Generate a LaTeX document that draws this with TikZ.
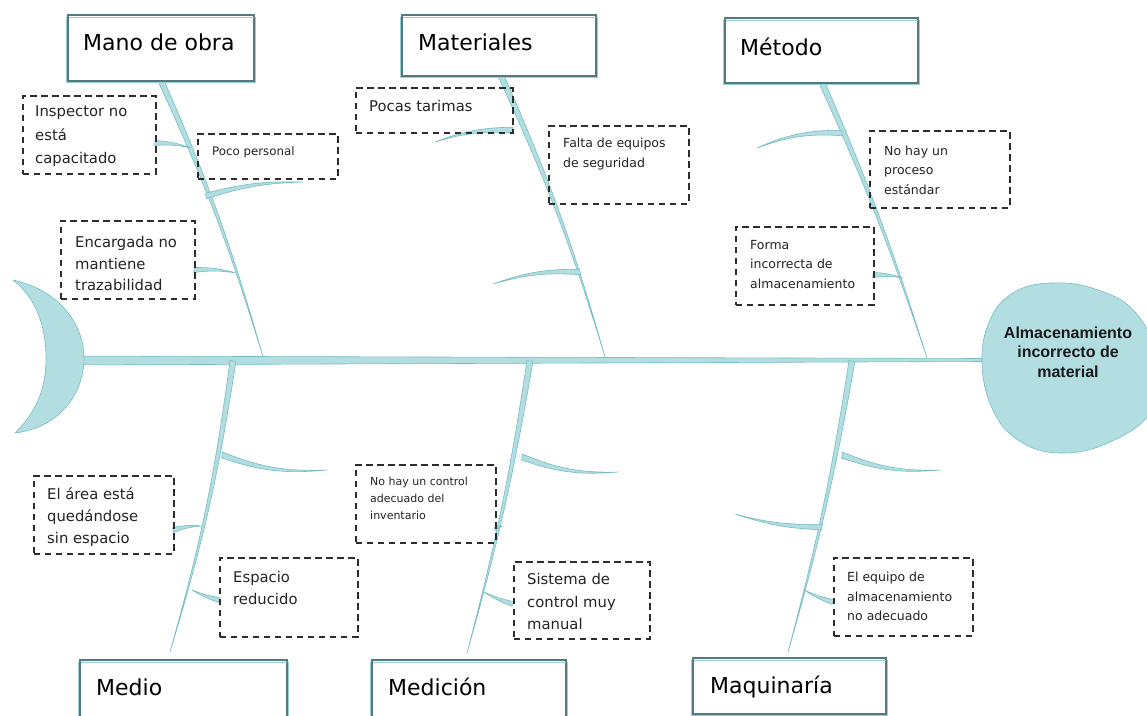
\documentclass[tikz,border=0pt]{standalone}
\usepackage{fontspec}
\setmainfont{DejaVu Sans}
\newfontfamily\headfont{Liberation Sans}
\usetikzlibrary{calc}
\definecolor{bonefill}{RGB}{178,222,226}
\definecolor{boneline}{RGB}{118,188,194}
\definecolor{catline}{RGB}{84,122,126}
\definecolor{catshadow}{RGB}{150,208,213}
\definecolor{dashc}{RGB}{45,45,45}
\definecolor{txtc}{RGB}{35,35,35}
\tikzset{
  bone/.style={fill=bonefill, draw=boneline, line width=0.6pt, line join=round},
  catbox/.style={draw=catline, line width=1.3pt, fill=white, inner sep=0pt, anchor=north west},
  catshade/.style={draw=catshadow, line width=1.6pt},
  cattext/.style={font=\fontsize{22}{26}\selectfont, text=black, inner sep=0pt, anchor=base west},
  dbox/.style={draw=dashc, line width=1.6pt, dash pattern=on 6.5pt off 4.5pt, inner sep=0pt, anchor=north west},
  ltext/.style={font=\fontsize{14.8}{22.5}\selectfont, text=txtc, inner sep=0pt, anchor=west, align=left},
  stext/.style={font=\fontsize{12.5}{19.5}\selectfont, text=txtc, inner sep=0pt, anchor=west, align=left},
  ttext/.style={font=\fontsize{11}{17}\selectfont, text=txtc, inner sep=0pt, anchor=west, align=left},
  headtext/.style={font=\headfont\bfseries\fontsize{16}{19.5}\selectfont, text=black!90, inner sep=0pt, align=center}
}
% tapered curved stroke: wide end #1, pointed end #2, half width #3 (pt), bend #4
\newcommand\brush[4]{\filldraw[bone] ($#1!#3pt!90:#2$) to[bend left=#4] #2 to[bend right=#4] ($#1!#3pt!-90:#2$) -- cycle;}
% category box: name, x0, y0, x1, y1
\newcommand\catframe[5]{%
  \node[catbox, minimum width={#4-#2}, minimum height={#5-#3}] (#1) at (#2,#3) {};
  \draw[catshade] ({#2-1.5},{#3+2.5}) rectangle ({#4+2.5},{#5+2.5});
  \draw[catline, line width=1.3pt] (#1.north west) rectangle (#1.south east);}
\begin{document}
\begin{tikzpicture}[x=1pt, y=-1pt]
\useasboundingbox (0,0) rectangle (1147,715);

% spine
\filldraw[bone] (70,356) -- (984,358.5) -- (984,361.5) -- (70,365) -- cycle;

% main bones (top)
\brush{(157,72)}{(263,357)}{3}{4}
\brush{(497,67)}{(605,357)}{3}{4}
\brush{(819,76)}{(927,358)}{3}{3}
% main bones (bottom)
\brush{(233,361)}{(170,652)}{3}{4}
\brush{(530,361)}{(467,653)}{3}{3}
\brush{(852,361)}{(788,652)}{3}{3}

% ribs
\brush{(206,196)}{(303,182)}{2.8}{8}
\brush{(513,130)}{(435,142)}{2.8}{-10}
\brush{(580,272)}{(493,284)}{2.8}{-10}
\brush{(842,133)}{(757,148)}{2.8}{-12}
\brush{(222,455)}{(327,470)}{3}{-12}
\brush{(522,457)}{(618,472)}{3}{-12}
\brush{(842,455)}{(940,470)}{3}{-12}
\brush{(822,527)}{(735,514)}{2.8}{8}
% short ribs to boxes
\brush{(155,143)}{(191,148)}{2.5}{8}
\brush{(194,270)}{(236,273)}{2.5}{8}
\brush{(873,275)}{(903,278)}{2.5}{8}
\brush{(173,530)}{(202,526)}{2.5}{8}
\brush{(219,600)}{(192,590)}{2.5}{6}
\brush{(513,604)}{(484,592)}{2.5}{6}
\brush{(833,602)}{(804,590)}{2.5}{6}
\brush{(495,529)}{(502,526)}{1.5}{6}

% tail
\filldraw[bone] (13,280) .. controls (60,290) and (84,325) .. (84,358)
  .. controls (84,395) and (58,428) .. (15,433)
  .. controls (36,412) and (46,390) .. (46,358)
  .. controls (46,326) and (36,298) .. (13,280) -- cycle;

% head
\filldraw[bone] plot[smooth cycle, tension=0.7] coordinates {
  (982,362) (990,320) (1013,293) (1050,283) (1095,289) (1135,312) (1158,360)
  (1152,410) (1110,442) (1060,453) (1018,440) (992,408)};
\node[headtext] (headT) at (1068,352) {Almacenamiento\\incorrecto de\\material};

% category boxes
\catframe{mano}{68}{15}{253}{80}
\node[cattext] (manoT) at (83,50) {Mano de obra};
\catframe{mat}{402}{15}{595}{75}
\node[cattext] (matT) at (418,50) {Materiales};
\catframe{met}{725}{18}{917}{82}
\node[cattext] (metT) at (740,55) {Método};
\catframe{medio}{80}{660}{286}{722}
\node[cattext] (medioT) at (96,695) {Medio};
\catframe{medic}{372}{660}{565}{722}
\node[cattext] (medicT) at (388,695) {Medición};
\catframe{maq}{693}{658}{885}{713}
\node[cattext] (maqT) at (710,693) {Maquinaría};

% dashed cause boxes
\node[dbox, minimum width=133, minimum height=78] (b1) at (22,95) {};
\node[ltext, font=\fontsize{14.8}{23.5}\selectfont] (t1) at (35,136.5) {Inspector no\\está\\capacitado};
\node[dbox, minimum width=140, minimum height=45] (b2) at (197,133) {};
\node[stext, font=\fontsize{11.8}{18}\selectfont] (t2) at (212,152) {Poco personal};
\node[dbox, minimum width=134, minimum height=78] (b3) at (60,220) {};
\node[ltext, font=\fontsize{14.8}{21.5}\selectfont] (t3) at (75,263.5) {Encargada no\\mantiene\\trazabilidad};
\node[dbox, minimum width=157, minimum height=45] (b4) at (355,87) {};
\node[ltext] (t4) at (369,106) {Pocas tarimas};
\node[dbox, minimum width=140, minimum height=78] (b5) at (548,125) {};
\node[stext] (t5) at (563,154) {Falta de equipos\\de seguridad};
\node[dbox, minimum width=140, minimum height=77] (b6) at (869,130) {};
\node[stext] (t6) at (884,170) {No hay un\\proceso\\estándar};
\node[dbox, minimum width=138, minimum height=78] (b7) at (735,226) {};
\node[stext] (t7) at (750,264.5) {Forma\\incorrecta de\\almacenamiento};
\node[dbox, minimum width=140, minimum height=78] (b8) at (33,475) {};
\node[ltext, font=\fontsize{14.8}{22}\selectfont] (t8) at (47,517) {El área está\\quedándose\\sin espacio};
\node[dbox, minimum width=138, minimum height=79] (b9) at (219,557) {};
\node[ltext, font=\fontsize{14.8}{22}\selectfont] (t9) at (233,588) {Espacio\\reducido};
\node[dbox, minimum width=140, minimum height=78] (b10) at (355,464) {};
\node[ttext] (t10) at (370,498) {No hay un control\\adecuado del\\inventario};
\node[dbox, minimum width=136, minimum height=77] (b11) at (513,561) {};
\node[ltext] (t11) at (527,601.5) {Sistema de\\control muy\\manual};
\node[dbox, minimum width=139, minimum height=78] (b12) at (833,557) {};
\node[stext] (t12) at (847,596.5) {El equipo de\\almacenamiento\\no adecuado};
\end{tikzpicture}
\end{document}
